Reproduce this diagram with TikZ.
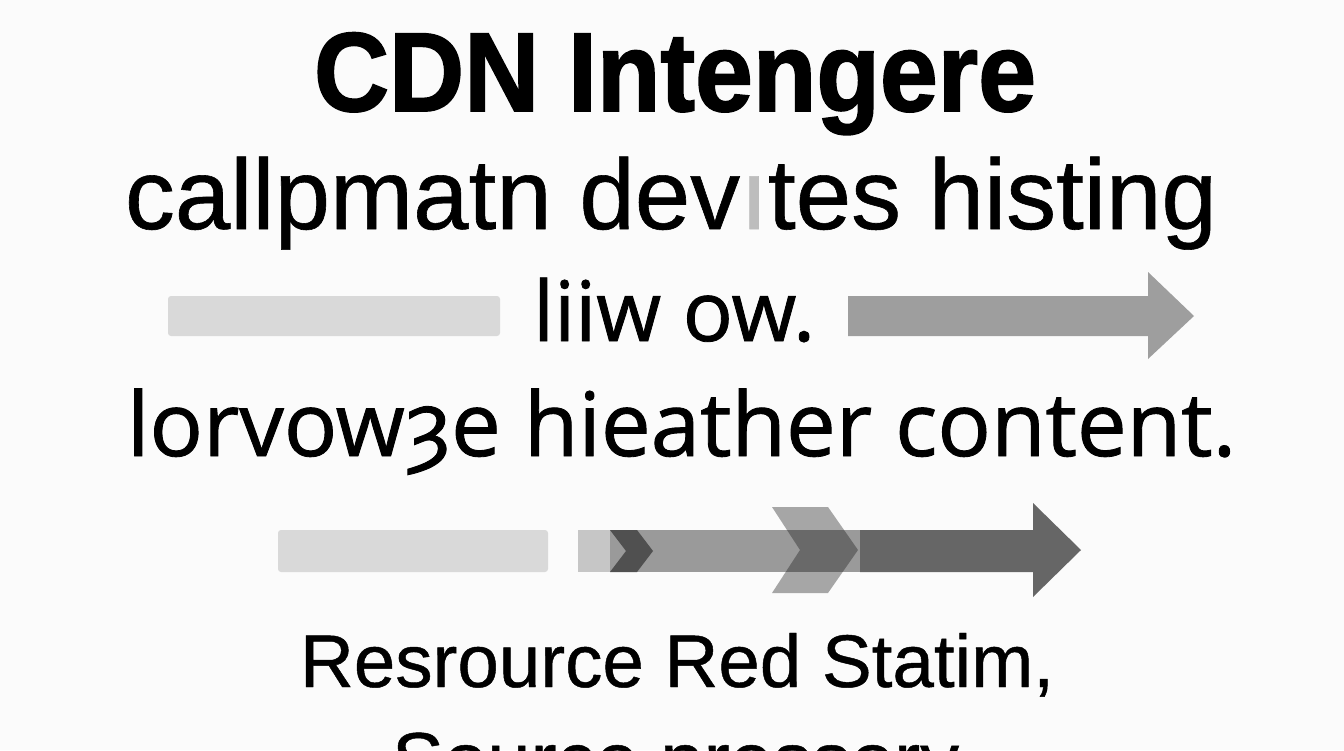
\documentclass[tikz,border=0pt]{standalone}
\usepackage{fontspec}
\setmainfont{Liberation Sans}
\newfontfamily\opensans{Open Sans}[FakeBold=1]
\newfontfamily\dejavu{DejaVu Sans}[FakeBold=1]
\newfontfamily\titlefont{Liberation Sans}[FakeBold=1.6]
\newfontfamily\linefont{Liberation Sans}[FakeBold=0.6]
\definecolor{bgc}{HTML}{FBFBFB}
\definecolor{barlight}{HTML}{D9D9D9}
\definecolor{barmid}{HTML}{9E9E9E}
\definecolor{seglight}{HTML}{C6C6C6}
\definecolor{segmid}{HTML}{9A9A9A}
\definecolor{segdark}{HTML}{666666}
\definecolor{chevdark}{HTML}{505050}
\definecolor{chevtint}{HTML}{171717}
\definecolor{ghost}{HTML}{BDBDBD}
\begin{document}
\begin{tikzpicture}[x=0.5pt,y=-0.5pt,
  txt/.style={anchor=base west,inner sep=0pt,outer sep=0pt},
  barshape/.style={rounded corners=1.5pt}]
\useasboundingbox (0,0) rectangle (1344,750);
\clip (0,0) rectangle (1344,750);
\fill[bgc] (0,0) rectangle (1344,750);

% texts
\node[txt] (title) at (314,111) {\scalebox{1}[1.08]{\resizebox{361pt}{!}{\titlefont\bfseries CDN Intengere}}};
\node[txt] (line2) at (125,229) {\resizebox{546pt}{!}{\linefont callpmatn dev{\color{ghost}\i}tes histing}};
\node[txt] (line3) at (533,341) {\resizebox{141pt}{!}{\opensans liiw ow.}};
\node[txt] (line4) at (127,456) {\resizebox{554.5pt}{!}{\opensans lorvow{\dejavu ȝ}e hieather content.}};
\node[txt] (line5) at (300,687) {\resizebox{377pt}{!}{\linefont Resrource Red Statim,}};
\node[txt] (line6) at (392,787) {\resizebox{283.5pt}{!}{\linefont Source pressory}};

% top arrows
\fill[barlight,barshape] (168,296) rectangle (500,336);
\fill[barmid] (848,296) -- (1148,296) -- (1148,272) -- (1194,316) -- (1148,359) -- (1148,336) -- (848,336) -- cycle;

% bottom arrows
\fill[barlight,barshape] (278,530) rectangle (548,572);
\fill[seglight] (578,530) rectangle (611,572);
\fill[segmid] (610,530) rectangle (861,572);
\fill[segdark] (860,530) -- (1033,530) -- (1033,503) -- (1081,550) -- (1033,597) -- (1033,572) -- (860,572) -- cycle;
\fill[chevdark] (610,530) -- (637,530) -- (653,551) -- (637,572) -- (610,572) -- (626,551) -- cycle;
\fill[chevtint,opacity=0.37] (772,507) -- (828,507) -- (858,550) -- (828,593) -- (772,593) -- (800,550) -- cycle;
\end{tikzpicture}
\end{document}
